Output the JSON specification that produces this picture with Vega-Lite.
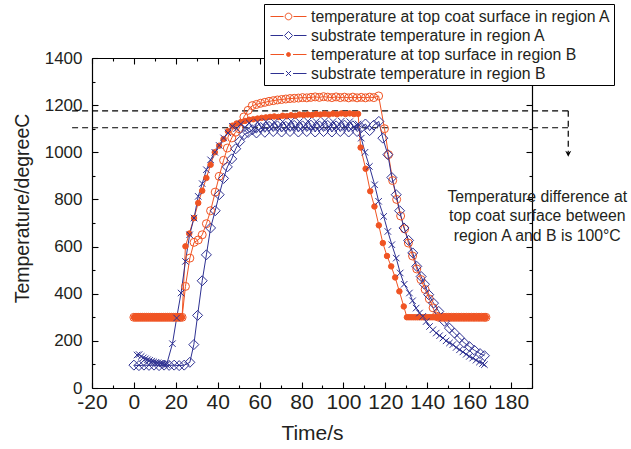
{
 "$schema": "https://vega.github.io/schema/vega-lite/v6.json",
 "width": 440, "height": 330,
 "autosize": {"type": "none"},
 "padding": {"left": 92, "top": 58, "right": 99, "bottom": 61},
 "background": "white",
 "config": {"view": {"stroke": null}, "font": "Liberation Sans",
   "axis": {"grid": false, "domainColor": "#000", "domainWidth": 1.2, "tickColor": "#000", "tickWidth": 1.1, "labelColor": "#231f20", "titleColor": "#231f20", "titleFontWeight": "normal", "labelFont": "Liberation Sans", "titleFont": "Liberation Sans", "labelOverlap": false, "labelFlush": false}},
 "datasets": {
  "names": [
   {"k": "a1", "s": "temperature at top coat surface in region A"},
   {"k": "a2", "s": "substrate temperature in region A"},
   {"k": "b1", "s": "temperature at top surface in region B"},
   {"k": "b2", "s": "substrate temperature in region B"}
  ],
  "guides": [
   {"x": -29.5, "x2": 207.3, "y": 1176, "y2": 1176},
   {"x": -29.5, "x2": 207.3, "y": 1104, "y2": 1104},
   {"x": 207.3, "x2": 207.3, "y": 1176, "y2": 1000}
  ],
  "arrow": [{"x": 207.3, "y": 994}],
  "note": [{"x": 192.5, "y": 812, "txt": "Temperature difference at\ntop coat surface between\nregion A and B is 100°C"}],
  "temps": [
   {"k":"a1","t":0,"v":300},{"k":"a1","t":1,"v":300},{"k":"a1","t":2,"v":300},{"k":"a1","t":3,"v":300},{"k":"a1","t":4,"v":300},{"k":"a1","t":5,"v":300},{"k":"a1","t":6,"v":300},{"k":"a1","t":7,"v":300},{"k":"a1","t":8,"v":300},{"k":"a1","t":9,"v":300},{"k":"a1","t":10,"v":300},{"k":"a1","t":11,"v":300},{"k":"a1","t":12,"v":300},{"k":"a1","t":13,"v":300},{"k":"a1","t":14,"v":300},{"k":"a1","t":15,"v":300},{"k":"a1","t":16,"v":300},{"k":"a1","t":17,"v":300},{"k":"a1","t":18,"v":300},{"k":"a1","t":19,"v":300},{"k":"a1","t":20,"v":300},{"k":"a1","t":21,"v":300},{"k":"a1","t":22,"v":300},{"k":"a1","t":23,"v":300},
   {"k":"a1","t":24.6,"v":431},{"k":"a1","t":26.7,"v":551},{"k":"a1","t":28.7,"v":618},{"k":"a1","t":30.7,"v":628},{"k":"a1","t":32.6,"v":650},{"k":"a1","t":34.6,"v":697},{"k":"a1","t":36.6,"v":752},{"k":"a1","t":38.8,"v":831},{"k":"a1","t":40.7,"v":898},{"k":"a1","t":42.8,"v":966},{"k":"a1","t":44.6,"v":1018},{"k":"a1","t":46.7,"v":1061},{"k":"a1","t":48.5,"v":1085},{"k":"a1","t":50.2,"v":1100},{"k":"a1","t":52.5,"v":1150},{"k":"a1","t":54.5,"v":1178},{"k":"a1","t":56.5,"v":1198},{"k":"a1","t":58.5,"v":1203},{"k":"a1","t":60.5,"v":1208},{"k":"a1","t":62.5,"v":1212},{"k":"a1","t":64.5,"v":1216},{"k":"a1","t":66.5,"v":1219},{"k":"a1","t":68.5,"v":1222},{"k":"a1","t":70.5,"v":1224},{"k":"a1","t":72.5,"v":1226},{"k":"a1","t":74.5,"v":1228},{"k":"a1","t":76.5,"v":1229},{"k":"a1","t":78.5,"v":1230},{"k":"a1","t":80.5,"v":1232},{"k":"a1","t":82.5,"v":1231},{"k":"a1","t":84.5,"v":1233},{"k":"a1","t":86.5,"v":1235},{"k":"a1","t":88.5,"v":1233},{"k":"a1","t":90.5,"v":1236},{"k":"a1","t":92.5,"v":1234},{"k":"a1","t":94.5,"v":1232},{"k":"a1","t":96.5,"v":1235},{"k":"a1","t":98.5,"v":1232},{"k":"a1","t":100.5,"v":1234},{"k":"a1","t":102.5,"v":1231},{"k":"a1","t":104.5,"v":1234},{"k":"a1","t":106.5,"v":1231},{"k":"a1","t":108.5,"v":1233},{"k":"a1","t":110.5,"v":1231},{"k":"a1","t":112.5,"v":1234},{"k":"a1","t":114.5,"v":1232},{"k":"a1","t":116.8,"v":1239},
   {"k":"a1","t":119.6,"v":1100},{"k":"a1","t":121.5,"v":990},{"k":"a1","t":123.5,"v":880},{"k":"a1","t":125.4,"v":800},{"k":"a1","t":127.3,"v":730},{"k":"a1","t":129.2,"v":675},{"k":"a1","t":131,"v":615},{"k":"a1","t":133,"v":560},{"k":"a1","t":135,"v":505},{"k":"a1","t":137,"v":460},{"k":"a1","t":139,"v":418},{"k":"a1","t":141,"v":378},{"k":"a1","t":142.8,"v":340},{"k":"a1","t":144.3,"v":305},
   {"k":"a1","t":145.5,"v":300},{"k":"a1","t":146.7,"v":300},{"k":"a1","t":147.9,"v":300},{"k":"a1","t":149.1,"v":300},{"k":"a1","t":150.3,"v":300},{"k":"a1","t":151.5,"v":300},{"k":"a1","t":152.7,"v":300},{"k":"a1","t":153.9,"v":300},{"k":"a1","t":155.1,"v":300},{"k":"a1","t":156.3,"v":300},{"k":"a1","t":157.5,"v":300},{"k":"a1","t":158.7,"v":300},{"k":"a1","t":159.9,"v":300},{"k":"a1","t":161.1,"v":300},{"k":"a1","t":162.3,"v":300},{"k":"a1","t":163.5,"v":300},{"k":"a1","t":164.7,"v":300},{"k":"a1","t":165.9,"v":300},{"k":"a1","t":167.1,"v":300},{"k":"a1","t":168,"v":300},

   {"k":"b1","t":0,"v":300},{"k":"b1","t":1,"v":300},{"k":"b1","t":2,"v":300},{"k":"b1","t":3,"v":300},{"k":"b1","t":4,"v":300},{"k":"b1","t":5,"v":300},{"k":"b1","t":6,"v":300},{"k":"b1","t":7,"v":300},{"k":"b1","t":8,"v":300},{"k":"b1","t":9,"v":300},{"k":"b1","t":10,"v":300},{"k":"b1","t":11,"v":300},{"k":"b1","t":12,"v":300},{"k":"b1","t":13,"v":300},{"k":"b1","t":14,"v":300},{"k":"b1","t":15,"v":300},{"k":"b1","t":16,"v":300},{"k":"b1","t":17,"v":300},{"k":"b1","t":18,"v":300},{"k":"b1","t":19,"v":300},{"k":"b1","t":20,"v":300},{"k":"b1","t":21,"v":300},{"k":"b1","t":22,"v":300},{"k":"b1","t":23,"v":300},
   {"k":"b1","t":24.6,"v":601},{"k":"b1","t":26.4,"v":655},{"k":"b1","t":28.7,"v":721},{"k":"b1","t":30.7,"v":785},{"k":"b1","t":32.6,"v":837},{"k":"b1","t":34.6,"v":891},{"k":"b1","t":36.6,"v":947},{"k":"b1","t":38.6,"v":1000},{"k":"b1","t":40.7,"v":1028},{"k":"b1","t":42.8,"v":1056},{"k":"b1","t":44.9,"v":1089},{"k":"b1","t":47,"v":1113},{"k":"b1","t":49,"v":1122},{"k":"b1","t":51,"v":1128},{"k":"b1","t":53,"v":1133},{"k":"b1","t":55,"v":1138},{"k":"b1","t":57,"v":1140},{"k":"b1","t":59,"v":1143},{"k":"b1","t":61,"v":1146},{"k":"b1","t":63,"v":1148},{"k":"b1","t":65,"v":1150},{"k":"b1","t":67,"v":1152},{"k":"b1","t":69,"v":1150},{"k":"b1","t":71,"v":1155},{"k":"b1","t":73,"v":1153},{"k":"b1","t":75,"v":1157},{"k":"b1","t":77,"v":1155},{"k":"b1","t":79,"v":1160},{"k":"b1","t":81,"v":1158},{"k":"b1","t":83,"v":1160},{"k":"b1","t":85,"v":1158},{"k":"b1","t":87,"v":1162},{"k":"b1","t":89,"v":1160},{"k":"b1","t":91,"v":1163},{"k":"b1","t":93,"v":1160},{"k":"b1","t":95,"v":1164},{"k":"b1","t":97,"v":1161},{"k":"b1","t":99,"v":1165},{"k":"b1","t":101,"v":1162},{"k":"b1","t":103,"v":1165},{"k":"b1","t":105,"v":1162},{"k":"b1","t":107,"v":1163},
   {"k":"b1","t":108.2,"v":1020},{"k":"b1","t":110.6,"v":930},{"k":"b1","t":112.8,"v":835},{"k":"b1","t":114.8,"v":770},{"k":"b1","t":116.9,"v":690},{"k":"b1","t":118.8,"v":615},{"k":"b1","t":120.8,"v":560},{"k":"b1","t":122.8,"v":516},{"k":"b1","t":124.7,"v":469},{"k":"b1","t":126.7,"v":410},{"k":"b1","t":128.8,"v":346},{"k":"b1","t":130.3,"v":300},
   {"k":"b1","t":131.3,"v":300},{"k":"b1","t":132.3,"v":300},{"k":"b1","t":133.3,"v":300},{"k":"b1","t":134.3,"v":300},{"k":"b1","t":135.3,"v":300},{"k":"b1","t":136.3,"v":300},{"k":"b1","t":137.3,"v":300},{"k":"b1","t":138.3,"v":300},{"k":"b1","t":139.3,"v":300},{"k":"b1","t":140.3,"v":300},{"k":"b1","t":141.3,"v":300},{"k":"b1","t":142.3,"v":300},{"k":"b1","t":143.3,"v":300},{"k":"b1","t":144.3,"v":300},{"k":"b1","t":145.3,"v":300},{"k":"b1","t":146.3,"v":300},{"k":"b1","t":147.3,"v":300},{"k":"b1","t":148.3,"v":300},{"k":"b1","t":149.3,"v":300},{"k":"b1","t":150.3,"v":300},{"k":"b1","t":151.3,"v":300},{"k":"b1","t":152.3,"v":300},{"k":"b1","t":153.3,"v":300},{"k":"b1","t":154.3,"v":300},{"k":"b1","t":155.3,"v":300},{"k":"b1","t":156.3,"v":300},{"k":"b1","t":157.3,"v":300},{"k":"b1","t":158.3,"v":300},{"k":"b1","t":159.3,"v":300},{"k":"b1","t":160.3,"v":300},{"k":"b1","t":161.3,"v":300},{"k":"b1","t":162.3,"v":300},{"k":"b1","t":163.3,"v":300},{"k":"b1","t":164.3,"v":300},{"k":"b1","t":165.3,"v":300},{"k":"b1","t":166.3,"v":300},{"k":"b1","t":167.3,"v":300},{"k":"b1","t":168,"v":300},

   {"k":"a2","t":0,"v":97},{"k":"a2","t":2.4,"v":95},{"k":"a2","t":4.8,"v":97},{"k":"a2","t":7.2,"v":96},{"k":"a2","t":9.6,"v":97},{"k":"a2","t":12,"v":95},{"k":"a2","t":14.4,"v":97},{"k":"a2","t":16.8,"v":96},{"k":"a2","t":19.2,"v":97},{"k":"a2","t":21.6,"v":95},{"k":"a2","t":24,"v":97},{"k":"a2","t":26.7,"v":109},{"k":"a2","t":28.6,"v":184},{"k":"a2","t":30.4,"v":308},{"k":"a2","t":32.6,"v":455},{"k":"a2","t":34.6,"v":565},{"k":"a2","t":36.6,"v":679},{"k":"a2","t":38.8,"v":752},{"k":"a2","t":40.7,"v":820},{"k":"a2","t":42.8,"v":889},{"k":"a2","t":44.6,"v":938},{"k":"a2","t":46.7,"v":972},{"k":"a2","t":48.6,"v":1015},{"k":"a2","t":50.5,"v":1046},{"k":"a2","t":52.6,"v":1075},{"k":"a2","t":54.5,"v":1084},{"k":"a2","t":56.5,"v":1095},{"k":"a2","t":58.5,"v":1082},{"k":"a2","t":60.5,"v":1105},{"k":"a2","t":62.5,"v":1085},{"k":"a2","t":64.5,"v":1110},{"k":"a2","t":66.5,"v":1088},{"k":"a2","t":68.5,"v":1112},{"k":"a2","t":70.5,"v":1086},{"k":"a2","t":72.5,"v":1110},{"k":"a2","t":74.5,"v":1088},{"k":"a2","t":76.5,"v":1114},{"k":"a2","t":78.5,"v":1086},{"k":"a2","t":80.5,"v":1112},{"k":"a2","t":82.5,"v":1088},{"k":"a2","t":84.5,"v":1115},{"k":"a2","t":86.5,"v":1086},{"k":"a2","t":88.5,"v":1112},{"k":"a2","t":90.5,"v":1088},{"k":"a2","t":92.5,"v":1114},{"k":"a2","t":94.5,"v":1086},{"k":"a2","t":96.5,"v":1112},{"k":"a2","t":98.5,"v":1088},{"k":"a2","t":100.5,"v":1115},{"k":"a2","t":102.5,"v":1086},{"k":"a2","t":104.5,"v":1112},{"k":"a2","t":106.5,"v":1088},{"k":"a2","t":108.5,"v":1105},{"k":"a2","t":110.5,"v":1120},{"k":"a2","t":112.5,"v":1092},{"k":"a2","t":114.5,"v":1115},{"k":"a2","t":116.9,"v":1131},{"k":"a2","t":118.8,"v":1060},{"k":"a2","t":121.2,"v":990},{"k":"a2","t":123.1,"v":893},{"k":"a2","t":125.2,"v":820},{"k":"a2","t":126.8,"v":752},{"k":"a2","t":128.9,"v":679},{"k":"a2","t":131.1,"v":626},{"k":"a2","t":133.1,"v":573},{"k":"a2","t":135,"v":516},{"k":"a2","t":137.1,"v":473},{"k":"a2","t":138.7,"v":440},{"k":"a2","t":140.7,"v":396},{"k":"a2","t":143,"v":360},{"k":"a2","t":145.5,"v":325},{"k":"a2","t":148.2,"v":283},{"k":"a2","t":150.6,"v":254},{"k":"a2","t":153,"v":233},{"k":"a2","t":155.4,"v":212},{"k":"a2","t":157.7,"v":191},{"k":"a2","t":160.1,"v":176},{"k":"a2","t":162.5,"v":160},{"k":"a2","t":165.2,"v":146},{"k":"a2","t":167.3,"v":137},

   {"k":"b2","t":1.5,"v":140},{"k":"b2","t":2.5,"v":142},{"k":"b2","t":3.5,"v":134},{"k":"b2","t":4.5,"v":128},{"k":"b2","t":5.5,"v":124},{"k":"b2","t":6.5,"v":120},{"k":"b2","t":7.5,"v":117},{"k":"b2","t":8.5,"v":114},{"k":"b2","t":9.5,"v":111},{"k":"b2","t":10.5,"v":109},{"k":"b2","t":11.5,"v":107},{"k":"b2","t":12.5,"v":105},{"k":"b2","t":13.5,"v":103},{"k":"b2","t":14.5,"v":101},{"k":"b2","t":15.6,"v":99},{"k":"b2","t":18.4,"v":188},{"k":"b2","t":20.4,"v":297},{"k":"b2","t":22.5,"v":403},{"k":"b2","t":24.6,"v":537},{"k":"b2","t":26.6,"v":650},{"k":"b2","t":28.7,"v":721},{"k":"b2","t":30.7,"v":813},{"k":"b2","t":32.6,"v":867},{"k":"b2","t":34.6,"v":926},{"k":"b2","t":36.6,"v":968},{"k":"b2","t":38.6,"v":1000},{"k":"b2","t":40.7,"v":1029},{"k":"b2","t":42.8,"v":1061},{"k":"b2","t":44.9,"v":1082},{"k":"b2","t":47,"v":1110},{"k":"b2","t":49,"v":1100},{"k":"b2","t":51,"v":1120},{"k":"b2","t":53,"v":1105},{"k":"b2","t":55,"v":1125},{"k":"b2","t":57,"v":1100},{"k":"b2","t":59,"v":1128},{"k":"b2","t":61,"v":1105},{"k":"b2","t":63,"v":1130},{"k":"b2","t":65,"v":1108},{"k":"b2","t":67,"v":1128},{"k":"b2","t":69,"v":1106},{"k":"b2","t":71,"v":1130},{"k":"b2","t":73,"v":1108},{"k":"b2","t":75,"v":1132},{"k":"b2","t":77,"v":1105},{"k":"b2","t":79,"v":1130},{"k":"b2","t":81,"v":1108},{"k":"b2","t":83,"v":1132},{"k":"b2","t":85,"v":1106},{"k":"b2","t":87,"v":1130},{"k":"b2","t":89,"v":1108},{"k":"b2","t":91,"v":1133},{"k":"b2","t":93,"v":1106},{"k":"b2","t":95,"v":1130},{"k":"b2","t":97,"v":1108},{"k":"b2","t":99,"v":1132},{"k":"b2","t":101,"v":1106},{"k":"b2","t":103,"v":1130},{"k":"b2","t":105,"v":1108},{"k":"b2","t":107,"v":1120},{"k":"b2","t":108.5,"v":1060},{"k":"b2","t":110.3,"v":1000},{"k":"b2","t":112.4,"v":940},{"k":"b2","t":114.9,"v":862},{"k":"b2","t":116.8,"v":792},{"k":"b2","t":119.2,"v":728},{"k":"b2","t":121.2,"v":664},{"k":"b2","t":123.1,"v":608},{"k":"b2","t":125.2,"v":551},{"k":"b2","t":127.1,"v":488},{"k":"b2","t":129,"v":440},{"k":"b2","t":131.5,"v":403},{"k":"b2","t":133,"v":370},{"k":"b2","t":134.7,"v":339},{"k":"b2","t":136.3,"v":318},{"k":"b2","t":137.9,"v":304},{"k":"b2","t":139.5,"v":282},{"k":"b2","t":141.1,"v":261},{"k":"b2","t":142.7,"v":247},{"k":"b2","t":144.3,"v":233},{"k":"b2","t":145.9,"v":222},{"k":"b2","t":147.5,"v":212},{"k":"b2","t":149,"v":200},{"k":"b2","t":150.6,"v":191},{"k":"b2","t":152.2,"v":184},{"k":"b2","t":153.8,"v":172},{"k":"b2","t":155.4,"v":162},{"k":"b2","t":157,"v":153},{"k":"b2","t":158.6,"v":143},{"k":"b2","t":160.1,"v":134},{"k":"b2","t":161.7,"v":127},{"k":"b2","t":163.3,"v":118},{"k":"b2","t":164.9,"v":110},{"k":"b2","t":166.4,"v":104},{"k":"b2","t":167.3,"v":99}
  ]
 },
 "layer": [
  {
   "data": {"name": "guides"},
   "mark": {"type": "rule", "color": "#000", "strokeDash": [6, 4], "strokeWidth": 1.2},
   "encoding": {
    "x": {"field": "x", "type": "quantitative", "scale": {"domain": [-20, 190], "nice": false, "zero": false},
      "axis": {"orient": "top", "labels": false, "ticks": false, "title": null, "values": [-20,0,20,40,60,80,100,120,140,160,180]}},
    "x2": {"field": "x2"},
    "y": {"field": "y", "type": "quantitative", "scale": {"domain": [0, 1400], "nice": false, "zero": true},
      "axis": {"orient": "right", "labels": false, "ticks": false, "title": null, "values": [0,200,400,600,800,1000,1200,1400]}},
    "y2": {"field": "y2"}
   }
  },
  {
   "data": {"name": "temps"},
   "mark": {"type": "line", "strokeWidth": 1},
   "encoding": {
    "x": {"field": "t", "type": "quantitative", "scale": {"domain": [-20, 190], "nice": false, "zero": false},
      "axis": {"orient": "bottom", "title": "Time/s", "values": [-20,0,20,40,60,80,100,120,140,160,180], "labelExpr": "'' + datum.value", "ticks": false, "labelFontSize": 21, "labelPadding": 3, "titleFontSize": 21, "titlePadding": 10}},
    "y": {"field": "v", "type": "quantitative", "scale": {"domain": [0, 1400], "nice": false, "zero": true},
      "axis": {"orient": "left", "title": "Temperature/degreeC", "values": [0,200,400,600,800,1000,1200,1400], "labelExpr": "'' + datum.value", "ticks": false, "labelFontSize": 17, "labelPadding": 10, "titleFontSize": 19.5, "titlePadding": 12, "titleY": 150}},
    "color": {"field": "k", "type": "nominal", "scale": {"domain": ["a1", "a2", "b1", "b2"], "range": ["#f05423", "#2e3192", "#f05423", "#2e3192"]}, "legend": null},
    "detail": {"field": "k"}
   }
  },
  {
   "data": {"name": "temps"},
   "transform": [{"filter": "datum.k === 'a1'"}],
   "mark": {"type": "point", "shape": "circle", "size": 64, "stroke": "#f05423", "fill": "transparent", "strokeWidth": 1, "opacity": 1},
   "encoding": {"x": {"field": "t", "type": "quantitative", "axis": {"orient": "bottom", "values": [-20,0,20,40,60,80,100,120,140,160,180], "labels": false, "domain": false, "title": null, "tickSize": 6, "offset": -6}},
     "y": {"field": "v", "type": "quantitative", "axis": {"orient": "left", "values": [0,200,400,600,800,1000,1200,1400], "labels": false, "domain": false, "title": null, "tickSize": 6, "offset": -6}}}
  },
  {
   "data": {"name": "temps"},
   "transform": [{"filter": "datum.k === 'a2'"}],
   "mark": {"type": "point", "shape": "diamond", "size": 100, "stroke": "#2e3192", "fill": "transparent", "strokeWidth": 1, "opacity": 1},
   "encoding": {"x": {"field": "t", "type": "quantitative", "axis": {"orient": "top", "values": [-20,0,20,40,60,80,100,120,140,160,180], "labels": false, "domain": false, "title": null, "tickSize": 6, "offset": -6}},
     "y": {"field": "v", "type": "quantitative", "axis": {"orient": "right", "values": [0,200,400,600,800,1000,1200,1400], "labels": false, "domain": false, "title": null, "tickSize": 6, "offset": -6}}}
  },
  {
   "data": {"name": "temps"},
   "transform": [{"filter": "datum.k === 'b1'"}],
   "mark": {"type": "point", "shape": "circle", "size": 30, "stroke": "#f05423", "fill": "#f05423", "strokeWidth": 1, "opacity": 1},
   "encoding": {"x": {"field": "t", "type": "quantitative", "axis": {"orient": "bottom", "values": [-10,10,30,50,70,90,110,130,150,170,190], "labels": false, "domain": false, "title": null, "tickSize": 3, "offset": -3}},
     "y": {"field": "v", "type": "quantitative", "axis": {"orient": "left", "values": [100,300,500,700,900,1100,1300], "labels": false, "domain": false, "title": null, "tickSize": 3, "offset": -3}}}
  },
  {
   "data": {"name": "temps"},
   "transform": [{"filter": "datum.k === 'b2'"}],
   "mark": {"type": "point", "shape": "M-1,-1L1,1M-1,1L1,-1", "size": 42, "stroke": "#2e3192", "fill": "transparent", "strokeWidth": 1, "opacity": 1},
   "encoding": {"x": {"field": "t", "type": "quantitative", "axis": {"orient": "top", "values": [-10,10,30,50,70,90,110,130,150,170,190], "labels": false, "domain": false, "title": null, "tickSize": 3, "offset": -3}},
     "y": {"field": "v", "type": "quantitative", "axis": {"orient": "right", "values": [100,300,500,700,900,1100,1300], "labels": false, "domain": false, "title": null, "tickSize": 3, "offset": -3}}}
  },
  {
   "data": {"name": "names"},
   "transform": [{"filter": "false"}],
   "mark": {"type": "point", "strokeWidth": 1, "opacity": 1, "size": 324},
   "encoding": {
    "x": {"field": "k", "type": "quantitative", "axis": null},
    "y": {"field": "k", "type": "quantitative", "axis": null},
    "stroke": {"field": "s", "type": "nominal",
      "scale": {"domain": ["temperature at top coat surface in region A", "substrate temperature in region A", "temperature at top surface in region B", "substrate temperature in region B"], "range": ["#f05423", "#2e3192", "#f05423", "#2e3192"]},
      "legend": {"orient": "none", "legendX": 172, "legendY": -54, "title": null, "strokeColor": "#000", "fillColor": "white", "padding": 3, "rowPadding": 1, "symbolOffset": 12, "labelOffset": 13, "labelFontSize": 15.8, "labelFont": "Liberation Sans", "labelColor": "#231f20", "labelLimit": 500, "symbolSize": 324, "symbolStrokeWidth": 1, "symbolOpacity": 1}},
    "shape": {"field": "s", "type": "nominal",
      "scale": {"domain": ["temperature at top coat surface in region A", "substrate temperature in region A", "temperature at top surface in region B", "substrate temperature in region B"],
        "range": ["M-2,0H-0.55M0.55,0H2M0.37,0A0.37,0.37,0,1,1,-0.37,0A0.37,0.37,0,1,1,0.37,0", "M-2,0H-0.6M0.6,0H2M-0.45,0L0,-0.45L0.45,0L0,0.45Z", "M-2,0H-0.5M0.5,0H2M0.22,0A0.22,0.22,0,1,1,-0.22,0A0.22,0.22,0,1,1,0.22,0", "M-2,0H-0.5M0.5,0H2M-0.28,-0.28L0.28,0.28M-0.28,0.28L0.28,-0.28"]}},
    "fill": {"field": "s", "type": "nominal",
      "scale": {"domain": ["temperature at top coat surface in region A", "substrate temperature in region A", "temperature at top surface in region B", "substrate temperature in region B"], "range": ["transparent", "transparent", "#f05423", "transparent"]}}
   }
  },
  {
   "data": {"name": "arrow"},
   "mark": {"type": "point", "shape": "M-1,-1L0,1L1,-1L0,-0.4Z", "size": 36, "filled": true, "color": "#000", "opacity": 1},
   "encoding": {"x": {"field": "x", "type": "quantitative", "axis": null}, "y": {"field": "y", "type": "quantitative", "axis": null}}
  },
  {
   "data": {"name": "note"},
   "mark": {"type": "text", "align": "center", "baseline": "middle", "lineBreak": "\n", "lineHeight": 19.5, "fontSize": 15.8, "font": "Liberation Sans", "color": "#231f20"},
   "encoding": {"x": {"field": "x", "type": "quantitative", "axis": null}, "y": {"field": "y", "type": "quantitative", "axis": null}, "text": {"field": "txt"}}
  }
 ],
 "resolve": {"axis": {"x": "independent", "y": "independent"}}
}
